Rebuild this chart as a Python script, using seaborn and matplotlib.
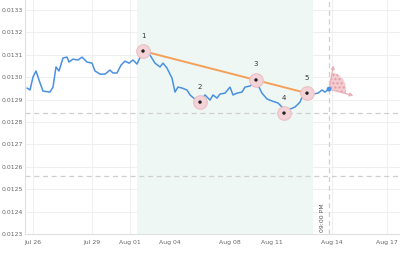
import numpy as np
import pandas as pd
import matplotlib
matplotlib.use("Agg")
import matplotlib.pyplot as plt
import matplotlib.transforms as mtransforms
from matplotlib.patches import Wedge, FancyArrowPatch
import seaborn as sns

# ---- data (x in chart time-units, y in price) ----
t = [27, 30, 33, 36, 39, 43, 50, 53, 56, 59, 63, 67, 69, 73, 78, 82, 87, 92, 95, 100,
     105, 110, 113, 117, 121, 125, 129, 133, 137, 143, 150, 155, 160, 163, 167, 172, 175,
     178, 182, 187, 190, 197, 200, 205, 210, 213, 217, 220, 225, 230, 233, 237, 242, 245,
     250, 253, 256, 258, 262, 267, 272, 278, 282, 284, 288, 295, 300, 303, 307, 313, 318,
     322, 325, 329]
price = [0.012952, 0.012943, 0.013001, 0.013028, 0.012988, 0.012938, 0.012934, 0.012956,
         0.013046, 0.013028, 0.013086, 0.013090, 0.013068, 0.013081, 0.013077, 0.013090,
         0.013068, 0.013063, 0.013028, 0.013014, 0.013014, 0.013032, 0.013019, 0.013019,
         0.013054, 0.013072, 0.013063, 0.013077, 0.013059, 0.013117, 0.013099, 0.013063,
         0.013046, 0.013063, 0.013041, 0.012996, 0.012934, 0.012956, 0.012952, 0.012943,
         0.012921, 0.012894, 0.012889, 0.012921, 0.012898, 0.012921, 0.012907, 0.012925,
         0.012929, 0.012956, 0.012921, 0.012929, 0.012934, 0.012956, 0.012961, 0.012970,
         0.012988, 0.012965, 0.012929, 0.012903, 0.012894, 0.012885, 0.012867, 0.012840,
         0.012854, 0.012867, 0.012889, 0.012921, 0.012929, 0.012925, 0.012929, 0.012943,
         0.012934, 0.012947]

pt_labels = ["1", "2", "3", "4", "5"]
pt_t = [143, 200, 256, 284, 307]
pt_price = [0.013117, 0.012889, 0.012988, 0.012840, 0.012929]

trend_t = [143, 307]
trend_price = [0.013117, 0.012929]

hlines = [0.012840, 0.012559]
shade_range = [137, 313]
marker_t = 329
marker_label = "09:00 PM"

tick_pos = [33, 92, 130, 170, 230, 272, 332, 387]
tick_labels = ["Jul 26", "Jul 29", "Aug 01", "Aug 04", "Aug 08", "Aug 11", "Aug 14", "Aug 17"]
y_ticks = [0.0123, 0.0124, 0.0125, 0.0126, 0.0127, 0.0128, 0.0129, 0.0130, 0.0131, 0.0132, 0.0133]

sns.set_style("white")
plt.rcParams['font.family'] = ['DejaVu Sans']

fig = plt.figure(figsize=(4.0, 2.54), dpi=100)
ax = fig.add_axes([25/400, 20/254, 375/400, 234/254])

ax.set_xlim(25, 400)
ax.set_ylim(0.0123, 0.013345)

# grid
for yv in y_ticks:
    ax.axhline(yv, color="#ececec", lw=0.6, zorder=0)
for xv in tick_pos:
    ax.axvline(xv, color="#ececec", lw=0.6, zorder=0)

ax.axvspan(shade_range[0], shade_range[1], color="#eef7f3", zorder=1, lw=0)

for hv in hlines:
    ax.axhline(hv, color="#cfcfcf", lw=0.9, ls=(0, (4, 3)), zorder=2)
ax.axvline(marker_t, color="#cfcfcf", lw=0.9, ls=(0, (4, 3)), zorder=2)
ax.text(marker_t - 6, 0.012371, marker_label, rotation=90, ha="center", va="center",
        fontsize=4.4, color="#555555", zorder=3)

df = pd.DataFrame({"t": t, "price": price})
sns.lineplot(data=df, x="t", y="price", ax=ax, color="#4a90e2", lw=1.1, zorder=4,
             estimator=None, sort=False)

tdf = pd.DataFrame({"t": trend_t, "price": trend_price})
sns.lineplot(data=tdf, x="t", y="price", ax=ax, color="#f5a05a", lw=1.4, zorder=5,
             estimator=None, sort=False)

pdf = pd.DataFrame({"t": pt_t, "price": pt_price})
sns.scatterplot(data=pdf, x="t", y="price", ax=ax, s=95, color="#f3d3d7",
                edgecolor="#ebbfc5", linewidth=0.8, zorder=6)
sns.scatterplot(data=pdf, x="t", y="price", ax=ax, s=6, color="#222222",
                edgecolor="none", zorder=7)
for lab, xv, yv in zip(pt_labels, pt_t, pt_price):
    ax.annotate(lab, (xv, yv), xytext=(0, 9), textcoords="offset points",
                ha="center", va="bottom", fontsize=5, color="#333333", zorder=8)

# end point
sns.scatterplot(x=[t[-1]], y=[price[-1]], ax=ax, s=12, color="#4a90e2",
                edgecolor="none", zorder=8)

# projection fan
trans = fig.dpi_scale_trans + mtransforms.ScaledTranslation(t[-1], price[-1], ax.transData)
w = Wedge((0, 0), 0.17, -15, 80, transform=trans, facecolor="#f4cdd2",
          edgecolor="#e49aa4", hatch="....", lw=0, zorder=5)
ax.add_patch(w)
for ang, ln in [(79, 0.27), (-15, 0.28)]:
    a = np.deg2rad(ang)
    arr = FancyArrowPatch((0, 0), (ln*np.cos(a), ln*np.sin(a)), transform=trans,
                          arrowstyle="-|>", mutation_scale=5, color="#eab0b8", lw=0.9,
                          zorder=5)
    ax.add_patch(arr)

ax.set_xticks(tick_pos)
ax.set_xticklabels(tick_labels)
ax.set_yticks(y_ticks)
ax.set_yticklabels([f"{v:.4f}" for v in y_ticks])
ax.tick_params(axis="both", length=0, labelsize=4.4, labelcolor="#666666")
ax.tick_params(axis="x", pad=4)
ax.tick_params(axis="y", pad=1.5)
ax.set_xlabel("")
ax.set_ylabel("")
for s in ["top", "right"]:
    ax.spines[s].set_visible(False)
for s in ["left", "bottom"]:
    ax.spines[s].set_color("#e0e0e0")
    ax.spines[s].set_linewidth(0.8)

fig.savefig("out.png", dpi=100)
